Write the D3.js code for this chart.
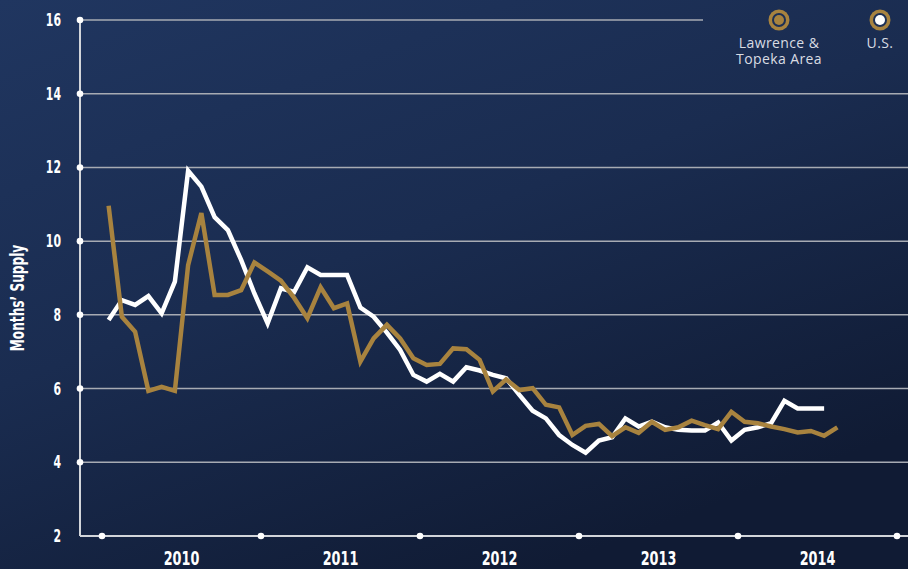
<!DOCTYPE html>
<html>
<head>
<meta charset="utf-8">
<script src="https://cdn.jsdelivr.net/npm/d3@7"></script>
<style>
  html, body { margin: 0; padding: 0; background: #172848; }
  svg { display: block; }
</style>
</head>
<body>
<svg id="chart"></svg>
<script>
// chart size
const svgWidth = 908;
const svgHeight = 569;

// data: monthly months' supply, Jan 2010 onwards
const years = ["2010", "2011", "2012", "2013", "2014"];
const yTicks = [2, 4, 6, 8, 10, 12, 14, 16];
const lawrenceTopeka = [10.96, 7.95, 7.54, 5.94, 6.05, 5.94, 9.35, 10.76, 8.54, 8.54, 8.67, 9.42,
  9.18, 8.93, 8.46, 7.91, 8.75, 8.18, 8.31, 6.73, 7.36, 7.73, 7.36, 6.82,
  6.64, 6.67, 7.09, 7.07, 6.78, 5.92, 6.25, 5.96, 6.01, 5.56, 5.49, 4.74,
  4.99, 5.04, 4.71, 4.95, 4.80, 5.10, 4.88, 4.95, 5.13, 5.01, 4.90, 5.37,
  5.10, 5.06, 4.97, 4.90, 4.81, 4.85, 4.72, 4.95];
const us = [7.86, 8.40, 8.27, 8.51, 8.04, 8.90, 11.91, 11.48, 10.65, 10.30, 9.49, 8.58,
  7.77, 8.72, 8.62, 9.29, 9.08, 9.08, 9.08, 8.20, 7.95, 7.52, 7.05, 6.37,
  6.19, 6.40, 6.19, 6.58, 6.49, 6.37, 6.28, 5.83, 5.40, 5.19, 4.74, 4.47,
  4.26, 4.59, 4.68, 5.19, 4.97, 5.10, 4.95, 4.88, 4.86, 4.86, 5.08, 4.59,
  4.88, 4.95, 5.06, 5.67, 5.46, 5.46, 5.46];

const gold = '#a8833f';
const grid = '#a7abb3';
const axisCol = '#d2d5da';
const labelFont = '"DejaVu Sans", sans-serif';

const svg = d3.select('#chart')
  .attr('width', svgWidth)
  .attr('height', svgHeight);

// background
const defs = svg.append('defs');
const bg = defs.append('linearGradient').attr('id', 'bg')
  .attr('x1', '0').attr('y1', '0').attr('x2', '0.6').attr('y2', '1');
bg.append('stop').attr('offset', '0%').attr('stop-color', '#203660');
bg.append('stop').attr('offset', '50%').attr('stop-color', '#1a2c50');
bg.append('stop').attr('offset', '100%').attr('stop-color', '#101b34');
svg.append('rect').attr('width', svgWidth).attr('height', svgHeight).attr('fill', 'url(#bg)');

// scales: month index, year dots fall half a month before each January
const x = d3.scaleLinear().domain([-0.5, 59.5]).range([102, 897]);
const y = d3.scaleLinear().domain([2, 16]).range([536, 20]);

// condensed bold label, squeezed horizontally
function squeezed(parent, tx, ty, text, size, anchor, rotate) {
  const g = parent.append('g')
    .attr('transform', 'translate(' + tx + ',' + ty + ')' + (rotate ? ' rotate(' + rotate + ')' : '') + ' scale(0.64,1)');
  g.append('text')
    .attr('text-anchor', anchor)
    .style('fill', '#ffffff')
    .style('font-family', labelFont)
    .style('font-weight', 'bold')
    .style('font-size', size + 'px')
    .text(text);
}

// horizontal grid lines
svg.selectAll('.grid')
  .data(yTicks.filter(d => d > 2))
  .enter().append('line')
  .attr('class', 'grid')
  .attr('x1', 80)
  .attr('x2', d => d === 16 ? 703 : svgWidth)
  .attr('y1', d => y(d))
  .attr('y2', d => y(d))
  .style('stroke', grid)
  .style('stroke-width', 1.5);

// y axis
svg.append('line')
  .attr('x1', 80).attr('x2', 80)
  .attr('y1', y(16)).attr('y2', y(2))
  .style('stroke', axisCol).style('stroke-width', 2);

svg.selectAll('.ydot')
  .data(yTicks.filter(d => d > 2))
  .enter().append('circle')
  .attr('cx', 80)
  .attr('cy', d => y(d))
  .attr('r', 3.3)
  .style('fill', '#ffffff');

yTicks.forEach(d => squeezed(svg, 61, y(d) + 6, d, 17, 'end'));

// x axis
svg.append('line')
  .attr('x1', 80).attr('x2', svgWidth)
  .attr('y1', y(2)).attr('y2', y(2))
  .style('stroke', axisCol).style('stroke-width', 2);

const yearEdges = d3.range(years.length + 1).map(i => i * 12 - 0.5);
svg.selectAll('.xdot')
  .data(yearEdges)
  .enter().append('circle')
  .attr('cx', d => x(d))
  .attr('cy', y(2))
  .attr('r', 3.3)
  .style('fill', '#ffffff');

years.forEach((d, i) => squeezed(svg, x(i * 12 + 5.5), 565, d, 20, 'middle'));

// axis title
squeezed(svg, 24, 298, 'Months\u2019 Supply', 19, 'middle', -90);

// lines
const line = d3.line()
  .x((d, i) => x(i))
  .y(d => y(d));

svg.append('path')
  .datum(us)
  .attr('d', line)
  .style('fill', 'none')
  .style('stroke', '#ffffff')
  .style('stroke-width', 4.5)
  .style('stroke-linejoin', 'miter');

svg.append('path')
  .datum(lawrenceTopeka)
  .attr('d', line)
  .style('fill', 'none')
  .style('stroke', gold)
  .style('stroke-width', 4.5)
  .style('stroke-linejoin', 'miter');

// legend
const legend = [
  { label: ['Lawrence &', 'Topeka Area'], inner: gold, cx: 779 },
  { label: ['U.S.'], inner: '#ffffff', cx: 880 }
];

const lg = svg.selectAll('.legend')
  .data(legend)
  .enter().append('g')
  .attr('class', 'legend')
  .attr('transform', d => 'translate(' + d.cx + ',20)');

lg.append('circle').attr('r', 10.5).style('fill', gold);
lg.append('circle').attr('r', 7).style('fill', '#1c2f55');
lg.append('circle').attr('r', 5).style('fill', d => d.inner);

const lt = lg.append('text')
  .attr('y', 28)
  .attr('text-anchor', 'middle')
  .style('fill', '#d9dce3')
  .style('font-family', '"Open Sans", "DejaVu Sans", sans-serif')
  .style('font-size', '14px')
  .style('letter-spacing', '0.4px');

lt.selectAll('tspan')
  .data(d => d.label)
  .enter().append('tspan')
  .attr('x', 0)
  .attr('dy', (t, i) => i === 0 ? 0 : 16)
  .text(t => t);
</script>
</body>
</html>
